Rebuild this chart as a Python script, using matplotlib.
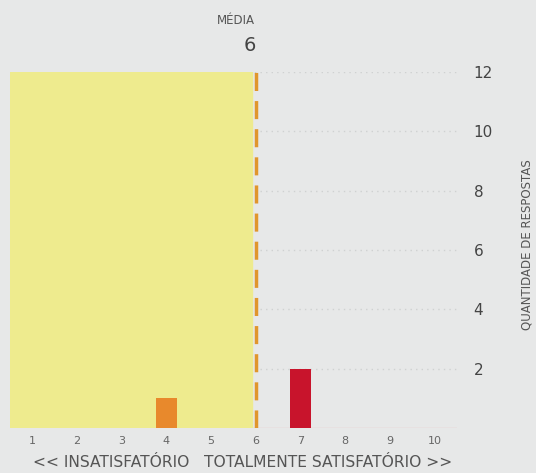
import numpy as np
import matplotlib.pyplot as plt

# notas de 1 a 10 e quantidade de respostas
notas = list(range(1, 11))
respostas = [0, 0, 0, 1, 0, 0, 2, 0, 0, 0]
cores = {4: '#e8892c', 7: '#c8142c'}
media = 6
y_ticks = [2, 4, 6, 8, 10, 12]

bg = '#e7e8e8'
fig = plt.figure(figsize=(5.36, 4.73), dpi=100, facecolor=bg)
ax = fig.add_axes([0.0187, 0.095, 0.834, 0.753], facecolor=bg)

# faixa amarela até a média
ax.axvspan(0.5, media - 0.08, color='#eeeb8e', zorder=1)
for t in y_ticks:
    ax.axhline(t, color='#cfd1d1', lw=1, ls=(0, (1, 3)), zorder=0.5)
ax.axhline(0, color='#e9c9c9', lw=1, zorder=0.6)

for n, r in zip(notas, respostas):
    if r > 0:
        ax.bar(n, r, width=0.47, color=cores[n], zorder=2)

ax.axvline(media, color='#e0962c', lw=2.5, ls=(0, (5.2, 2.9)), zorder=3)

ax.set_xlim(0.5, 10.5)
ax.set_ylim(0, 12)
ax.set_xticks(notas)
ax.set_yticks(y_ticks)
ax.yaxis.tick_right()
ax.tick_params(axis='y', length=0, pad=12, labelsize=11, labelcolor='#444444')
ax.tick_params(axis='x', length=0, pad=6, labelsize=8, labelcolor='#666666')
for s in ax.spines.values():
    s.set_visible(False)

fig.text(0.452, 0.022, '<< INSATISFATÓRIO   TOTALMENTE SATISFATÓRIO >>',
         fontsize=11.2, color='#555555', ha='center', va='center')
fig.text(0.983, 0.482, 'QUANTIDADE DE RESPOSTAS', rotation=90,
         fontsize=8.5, color='#555555', ha='center', va='center')

fig.text(0.476, 0.957, 'MÉDIA', fontsize=8.5, color='#555555', ha='right', va='center')
fig.text(0.478, 0.904, str(media), fontsize=14, color='#444444', ha='right', va='center')

fig.savefig('out.png', dpi=100, facecolor=bg)
